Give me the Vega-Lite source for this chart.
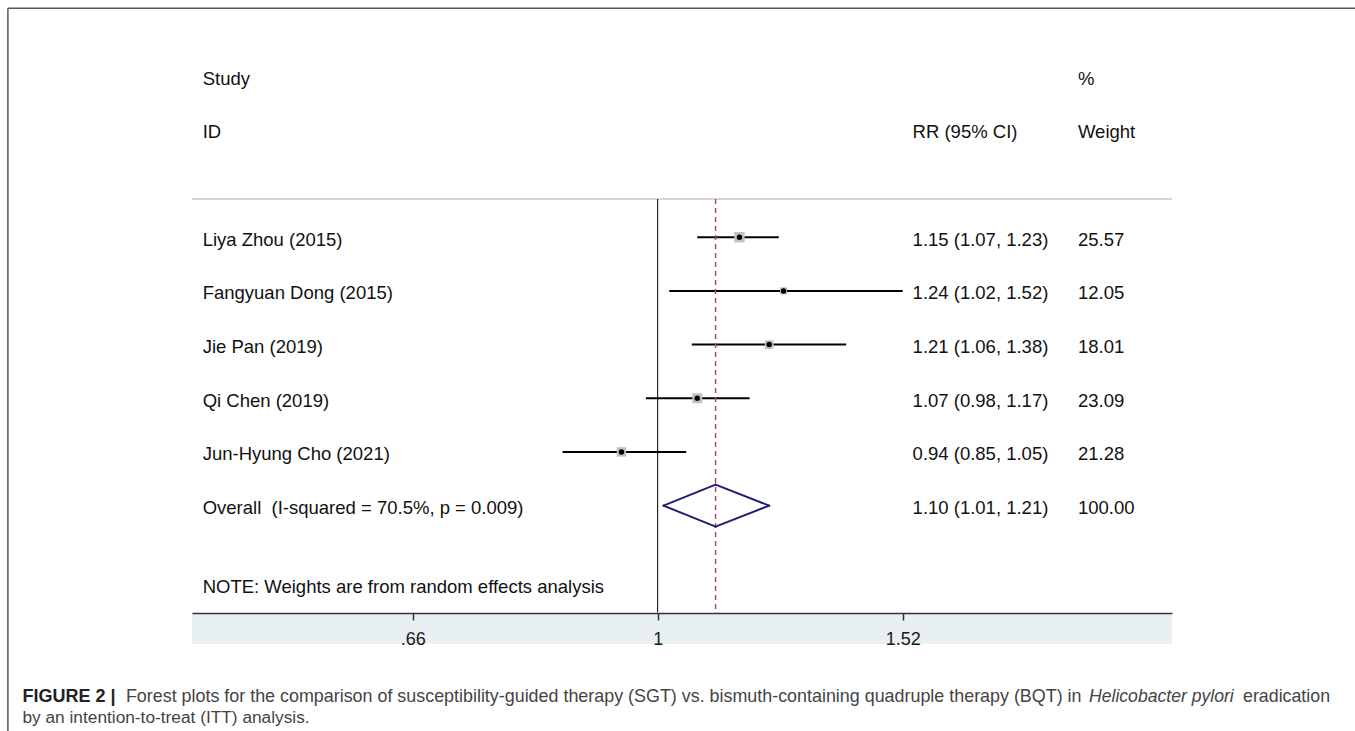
{
  "$schema": "https://vega.github.io/schema/vega-lite/v6.json",
  "width": 980,
  "height": 636,
  "autosize": {"type": "none"},
  "padding": {"left": 192, "top": 8, "right": 183, "bottom": 87},
  "background": "white",
  "config": {"view": {"stroke": null, "fill": "#e8f0f2"}, "text": {"font": "Liberation Sans", "fontSize": 18.5, "color": "#111111"}},
  "datasets": {
    "studies": [
      {"study": "Liya Zhou (2015)", "row": 1, "kind": "study", "rr": 1.15, "lo": 1.07, "hi": 1.23, "weight": 25.57, "ci": "1.15 (1.07, 1.23)"},
      {"study": "Fangyuan Dong (2015)", "row": 2, "kind": "study", "rr": 1.24, "lo": 1.02, "hi": 1.52, "weight": 12.05, "ci": "1.24 (1.02, 1.52)"},
      {"study": "Jie Pan (2019)", "row": 3, "kind": "study", "rr": 1.21, "lo": 1.06, "hi": 1.38, "weight": 18.01, "ci": "1.21 (1.06, 1.38)"},
      {"study": "Qi Chen (2019)", "row": 4, "kind": "study", "rr": 1.07, "lo": 0.98, "hi": 1.17, "weight": 23.09, "ci": "1.07 (0.98, 1.17)"},
      {"study": "Jun-Hyung Cho (2021)", "row": 5, "kind": "study", "rr": 0.94, "lo": 0.85, "hi": 1.05, "weight": 21.28, "ci": "0.94 (0.85, 1.05)"},
      {"study": "Overall\u00a0\u00a0(I-squared = 70.5%, p = 0.009)", "row": 6, "kind": "overall", "rr": 1.104, "lo": 1.01, "hi": 1.21, "weight": 100.00, "ci": "1.10 (1.01, 1.21)"}
    ]
  },
  "data": {"name": "studies"},
  "layer": [
    {
      "data": {"values": [{}]},
      "mark": {"type": "rect", "color": "#ffffff"},
      "encoding": {
        "y": {"datum": -3.3, "type": "quantitative", "scale": {"domain": [-3.27, 8.578], "reverse": true, "nice": false, "zero": false}, "axis": null},
        "y2": {"datum": 7.986}
      }
    },
    {
      "transform": [{"filter": "datum.kind == 'study'"}],
      "mark": {"type": "rule", "color": "#000000", "strokeWidth": 2},
      "encoding": {
        "x": {"field": "lo", "type": "quantitative",
          "scale": {"type": "log", "domain": [0.4512, 2.4085], "nice": false},
          "axis": {"title": null, "orient": "bottom", "offset": -31, "values": [0.6579, 1, 1.52], "format": ".2~f", "labelExpr": "replace(datum.label, '0.', '.')",
            "grid": false, "domainColor": "#333333", "domainWidth": 1.5, "tickColor": "#333333", "tickWidth": 1.5, "tickSize": 7,
            "labelFont": "Liberation Sans", "labelFontSize": 18, "labelColor": "#1a1a1a", "labelPadding": 10, "labelFlush": false}},
        "x2": {"field": "hi"},
        "y": {"field": "row", "type": "quantitative", "axis": null}
      }
    },
    {
      "data": {"values": [{}]},
      "mark": {"type": "rule", "color": "#c8c8c8", "strokeWidth": 1.5},
      "encoding": {"y": {"datum": 0.288, "type": "quantitative", "axis": null}}
    },
    {
      "data": {"values": [{}]},
      "mark": {"type": "rule", "color": "#000000", "strokeWidth": 1},
      "encoding": {
        "x": {"datum": 1, "type": "quantitative"},
        "y": {"datum": 0.288, "type": "quantitative", "axis": null},
        "y2": {"datum": 7.99}
      }
    },
    {
      "transform": [{"filter": "datum.kind == 'overall'"}],
      "mark": {"type": "rule", "color": "#b04a5c", "strokeWidth": 1.5, "strokeDash": [5, 4]},
      "encoding": {
        "x": {"field": "rr", "type": "quantitative"},
        "y": {"datum": 0.288, "type": "quantitative", "axis": null},
        "y2": {"datum": 7.99}
      }
    },
    {
      "transform": [{"filter": "datum.kind == 'study'"}],
      "mark": {"type": "point", "shape": "square", "filled": true, "color": "#c0c0c0", "opacity": 1},
      "encoding": {
        "x": {"field": "rr", "type": "quantitative"},
        "y": {"field": "row", "type": "quantitative", "axis": null},
        "size": {"field": "weight", "type": "quantitative", "scale": {"domain": [0, 100], "range": [0, 420]}, "legend": null}
      }
    },
    {
      "transform": [{"filter": "datum.kind == 'study'"}],
      "mark": {"type": "point", "shape": "circle", "filled": true, "color": "#000000", "size": 30, "opacity": 1},
      "encoding": {
        "x": {"field": "rr", "type": "quantitative"},
        "y": {"field": "row", "type": "quantitative", "axis": null}
      }
    },
    {
      "transform": [{"filter": "datum.kind == 'overall'"}],
      "mark": {"type": "rule", "color": "#1f1f7a", "strokeWidth": 2, "strokeCap": "round", "y2Offset": -21},
      "encoding": {
        "x": {"field": "lo", "type": "quantitative"}, "x2": {"field": "rr"},
        "y": {"field": "row", "type": "quantitative", "axis": null}, "y2": {"field": "row"}
      }
    },
    {
      "transform": [{"filter": "datum.kind == 'overall'"}],
      "mark": {"type": "rule", "color": "#1f1f7a", "strokeWidth": 2, "strokeCap": "round", "y2Offset": 21},
      "encoding": {
        "x": {"field": "lo", "type": "quantitative"}, "x2": {"field": "rr"},
        "y": {"field": "row", "type": "quantitative", "axis": null}, "y2": {"field": "row"}
      }
    },
    {
      "transform": [{"filter": "datum.kind == 'overall'"}],
      "mark": {"type": "rule", "color": "#1f1f7a", "strokeWidth": 2, "strokeCap": "round", "yOffset": -21},
      "encoding": {
        "x": {"field": "rr", "type": "quantitative"}, "x2": {"field": "hi"},
        "y": {"field": "row", "type": "quantitative", "axis": null}, "y2": {"field": "row"}
      }
    },
    {
      "transform": [{"filter": "datum.kind == 'overall'"}],
      "mark": {"type": "rule", "color": "#1f1f7a", "strokeWidth": 2, "strokeCap": "round", "yOffset": 21},
      "encoding": {
        "x": {"field": "rr", "type": "quantitative"}, "x2": {"field": "hi"},
        "y": {"field": "row", "type": "quantitative", "axis": null}, "y2": {"field": "row"}
      }
    },
    {
      "mark": {"type": "text", "align": "left", "baseline": "middle", "dy": 2.5},
      "encoding": {
        "x": {"datum": 0.4595, "type": "quantitative"},
        "y": {"field": "row", "type": "quantitative", "axis": null},
        "text": {"field": "study"}
      }
    },
    {
      "mark": {"type": "text", "align": "left", "baseline": "middle", "dy": 2.5},
      "encoding": {
        "x": {"datum": 1.546, "type": "quantitative"},
        "y": {"field": "row", "type": "quantitative", "axis": null},
        "text": {"field": "ci"}
      }
    },
    {
      "mark": {"type": "text", "align": "left", "baseline": "middle", "dy": 2.5},
      "encoding": {
        "x": {"datum": 2.051, "type": "quantitative"},
        "y": {"field": "row", "type": "quantitative", "axis": null},
        "text": {"field": "weight", "format": ".2f"}
      }
    },
    {
      "data": {"values": [{}]},
      "mark": {"type": "text", "align": "left", "baseline": "middle", "dy": 2.5},
      "encoding": {"x": {"datum": 0.4595, "type": "quantitative"}, "y": {"datum": -2, "type": "quantitative", "axis": null}, "text": {"value": "Study"}}
    },
    {
      "data": {"values": [{}]},
      "mark": {"type": "text", "align": "left", "baseline": "middle", "dy": 2.5},
      "encoding": {"x": {"datum": 0.4595, "type": "quantitative"}, "y": {"datum": -1, "type": "quantitative", "axis": null}, "text": {"value": "ID"}}
    },
    {
      "data": {"values": [{}]},
      "mark": {"type": "text", "align": "left", "baseline": "middle", "dy": 2.5},
      "encoding": {"x": {"datum": 1.546, "type": "quantitative"}, "y": {"datum": -1, "type": "quantitative", "axis": null}, "text": {"value": "RR (95% CI)"}}
    },
    {
      "data": {"values": [{}]},
      "mark": {"type": "text", "align": "left", "baseline": "middle", "dy": 2.5},
      "encoding": {"x": {"datum": 2.051, "type": "quantitative"}, "y": {"datum": -2, "type": "quantitative", "axis": null}, "text": {"value": "%"}}
    },
    {
      "data": {"values": [{}]},
      "mark": {"type": "text", "align": "left", "baseline": "middle", "dy": 2.5},
      "encoding": {"x": {"datum": 2.051, "type": "quantitative"}, "y": {"datum": -1, "type": "quantitative", "axis": null}, "text": {"value": "Weight"}}
    },
    {
      "data": {"values": [{}]},
      "mark": {"type": "text", "align": "left", "baseline": "middle", "dy": 2.5},
      "encoding": {"x": {"datum": 0.4595, "type": "quantitative"}, "y": {"datum": 7.47, "type": "quantitative", "axis": null}, "text": {"value": "NOTE: Weights are from random effects analysis"}}
    },
    {
      "data": {"values": [{}]},
      "mark": {"type": "rule", "color": "#555555", "strokeWidth": 1.5},
      "encoding": {"x": {"datum": 0.3294, "type": "quantitative"}, "y": {"datum": -3.264, "type": "quantitative", "axis": null}, "y2": {"datum": 12}}
    },
    {
      "data": {"values": [{}]},
      "mark": {"type": "rule", "color": "#555555", "strokeWidth": 1.5},
      "encoding": {"x": {"datum": 0.3294, "type": "quantitative"}, "x2": {"datum": 10}, "y": {"datum": -3.264, "type": "quantitative", "axis": null}}
    },
    {
      "data": {"values": [{}]},
      "mark": {"type": "text", "align": "left", "baseline": "alphabetic", "fontSize": 18, "fontWeight": "bold", "color": "#222222"},
      "encoding": {"x": {"datum": 0.3377, "type": "quantitative"}, "y": {"datum": 9.653, "type": "quantitative", "axis": null}, "text": {"value": "FIGURE 2 |"}}
    },
    {
      "data": {"values": [{}]},
      "mark": {"type": "text", "align": "left", "baseline": "alphabetic", "fontSize": 17.9, "color": "#444444"},
      "encoding": {"x": {"datum": 0.403, "type": "quantitative"}, "y": {"datum": 9.653, "type": "quantitative", "axis": null}, "text": {"value": "Forest plots for the comparison of susceptibility-guided therapy (SGT) vs. bismuth-containing quadruple therapy (BQT) in"}}
    },
    {
      "data": {"values": [{}]},
      "mark": {"type": "text", "align": "left", "baseline": "alphabetic", "fontSize": 17.6, "fontStyle": "italic", "color": "#444444"},
      "encoding": {"x": {"datum": 2.09, "type": "quantitative"}, "y": {"datum": 9.653, "type": "quantitative", "axis": null}, "text": {"value": "Helicobacter pylori"}}
    },
    {
      "data": {"values": [{}]},
      "mark": {"type": "text", "align": "left", "baseline": "alphabetic", "fontSize": 17.8, "color": "#444444"},
      "encoding": {"x": {"datum": 2.7194, "type": "quantitative"}, "y": {"datum": 9.653, "type": "quantitative", "axis": null}, "text": {"value": "eradication"}}
    },
    {
      "data": {"values": [{}]},
      "mark": {"type": "text", "align": "left", "baseline": "alphabetic", "fontSize": 17.3, "color": "#444444"},
      "encoding": {"x": {"datum": 0.3377, "type": "quantitative"}, "y": {"datum": 10.055, "type": "quantitative", "axis": null}, "text": {"value": "by an intention-to-treat (ITT) analysis."}}
    }
  ]
}
